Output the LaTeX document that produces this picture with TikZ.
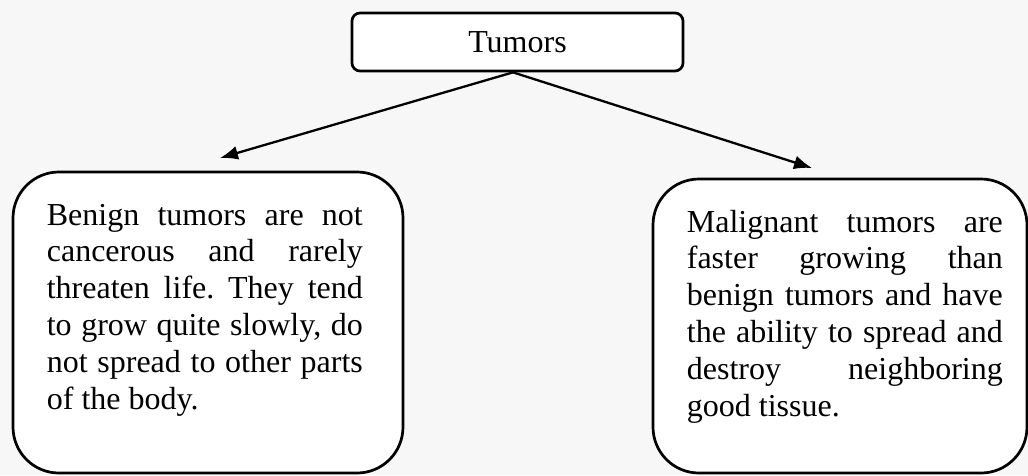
\documentclass[tikz,border=0pt]{standalone}
\usepackage{fontspec}
\setmainfont{Liberation Serif}
\usetikzlibrary{arrows.meta}
\definecolor{pagegray}{HTML}{F7F7F7}
\frenchspacing

\begin{document}
\begin{tikzpicture}[x=1pt,y=-1pt,
    every node/.style={font=\fontsize{32}{36.9}\selectfont},
    bigbox/.style={draw,line width=2.7pt,fill=white,rounded corners=46pt},
    bodytext/.style={text width=316pt,align=justify,inner sep=0pt,anchor=north west}]
    % Background and page size
    \fill[pagegray] (0,0) rectangle (1028,475);
    \useasboundingbox (0,0) rectangle (1028,475);

    % Top box
    \node[draw,line width=2.7pt,fill=white,rounded corners=8pt,minimum width=331pt,minimum height=58pt] (tumors) at (517.5,42) {Tumors};

    % The two kinds
    \node[bigbox,minimum width=390pt,minimum height=301pt] (benign) at (208,322.5) {};
    \node[bigbox,minimum width=374pt,minimum height=294pt] (malignant) at (840,326) {};

    % Texts in the boxes
    \node[bodytext] (benigntext) at ([xshift=35pt,yshift=-33pt]benign.north west)
        {Benign tumors are not\linebreak cancerous and rarely\linebreak threaten life. They tend\linebreak to grow quite slowly, do\linebreak not spread to other parts\linebreak of the body.};
    \node[bodytext] (malignanttext) at ([xshift=35pt,yshift=-32pt]malignant.north west)
        {Malignant tumors are\linebreak faster growing than\linebreak benign tumors and have\linebreak the ability to spread and\linebreak destroy neighboring\linebreak good tissue.};

    % Arrows
    \coordinate (fork) at ([xshift=-4.5pt]tumors.south);
    \coordinate (benigntip) at (220,158);
    \coordinate (malignanttip) at (812,168);
    \draw[-{Latex[length=18pt,width=14pt]},line width=2.3pt] (fork) -- (benigntip);
    \draw[-{Latex[length=18pt,width=14pt]},line width=2.3pt] (fork) -- (malignanttip);

\end{tikzpicture}
\end{document}
